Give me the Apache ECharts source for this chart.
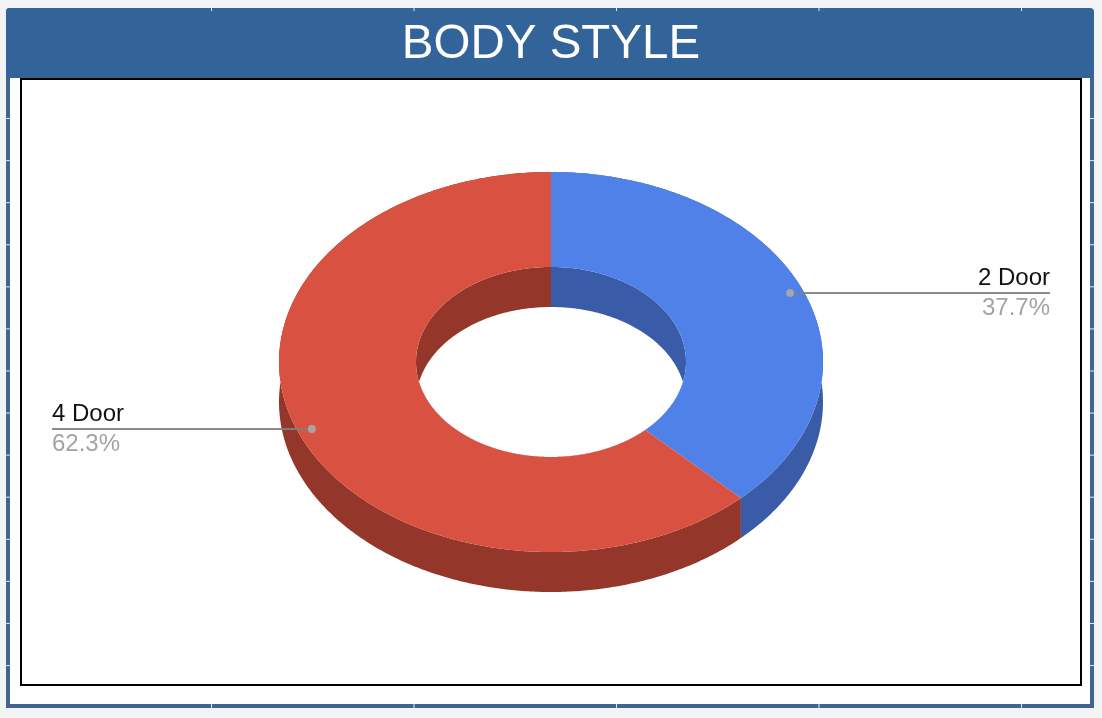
<!DOCTYPE html>
<html>
<head>
<meta charset="utf-8">
<style>html,body{margin:0;padding:0;background:#f1f3f5}#c{width:1102px;height:718px}</style>
<script src="https://cdn.jsdelivr.net/npm/echarts@6/dist/echarts.min.js"></script>
</head>
<body>
<div id="c"></div>
<script>
var titleText = 'BODY STYLE';
var categories = ['2 Door', '4 Door'];
var values = [37.7, 62.3];
var topColors = ['#4f81e8', '#d95140'];
var wallColors = ['#3a5ca8', '#95362a'];

var FONT = '"Liberation Sans", Arial, sans-serif';
var cx = 551, cy = 362, rx = 272, ry = 190, irx = 135, iry = 95, depth = 40;
var labelEnd = [1050, 52];   // x where each leader line stops
var DOT_RING = 0.949;

var total = values.reduce(function (a, b) { return a + b; }, 0);
function startAngle(i) {
  var s = 0;
  for (var k = 0; k < i; k++) s += values[k];
  return s / total * Math.PI * 2;
}
function endAngle(i) { return startAngle(i) + values[i] / total * Math.PI * 2; }
function pt(a, rX, rY, dy) { return [cx + rX * Math.sin(a), cy - rY * Math.cos(a) + (dy || 0)]; }
function arc(a0, a1, rX, rY, dy) {
  var n = Math.max(2, Math.ceil((a1 - a0) / 0.01)), out = [];
  for (var k = 0; k <= n; k++) out.push(pt(a0 + (a1 - a0) * k / n, rX, rY, dy));
  return out;
}
function poly(points, fill, extra) {
  return Object.assign({ type: 'polygon', shape: { points: points }, style: { fill: fill, stroke: null } }, extra || {});
}

function renderWall(params) {
  var i = params.dataIndex, a0 = startAngle(i), a1 = endAngle(i);
  return poly(arc(a0, a1, rx, ry, 0).concat(arc(a0, a1, rx, ry, depth).reverse()), wallColors[i]);
}
function renderInnerWall(params) {
  var i = params.dataIndex;
  return poly([[cx, cy]].concat(arc(startAngle(i), endAngle(i), irx, iry, 0)), wallColors[i]);
}
function renderHole() {
  var upper = [], lower = [], N = 300;
  var half = irx * Math.sqrt(1 - Math.pow(depth / 2 / iry, 2));
  for (var k = 0; k <= N; k++) {
    var x = -half + 2 * half * k / N, q = Math.sqrt(1 - x * x / (irx * irx));
    upper.push([cx + x, cy + depth - iry * q]);
    lower.unshift([cx + x, cy + iry * q]);
  }
  return poly(upper.concat(lower), '#ffffff');
}
function renderTop(params) {
  var i = params.dataIndex, a0 = startAngle(i), a1 = endAngle(i);
  return poly(arc(a0, a1, rx, ry, 0).concat(arc(a0, a1, irx, iry, 0).reverse()), topColors[i]);
}
function renderLabel(params) {
  var i = params.dataIndex, mid = (startAngle(i) + endAngle(i)) / 2;
  var d = pt(mid, rx * DOT_RING, ry * DOT_RING, -1), ex = labelEnd[i];
  var align = ex > d[0] ? 'right' : 'left';
  return {
    type: 'group',
    children: [
      { type: 'line', shape: { x1: d[0], y1: d[1], x2: ex, y2: d[1] },
        style: { stroke: '#808080', lineWidth: 2, opacity: 0.9 } },
      { type: 'circle', shape: { cx: d[0], cy: d[1], r: 4 }, style: { fill: '#a8a8a8', opacity: 0.95 } },
      { type: 'text', style: { x: ex, y: d[1] - 3, text: categories[i], align: align, verticalAlign: 'bottom',
          fill: '#111111', font: '24px ' + FONT } },
      { type: 'text', style: { x: ex, y: d[1] + 3, text: values[i].toFixed(1) + '%', align: align, verticalAlign: 'top',
          fill: '#a3a3a3', font: '24px ' + FONT } }
    ]
  };
}

var indexData = categories.map(function (c, i) { return { name: c, value: values[i] }; });
function layer(fn, z, data) {
  return { type: 'custom', coordinateSystem: 'none', renderItem: fn, data: data || indexData, z: z, silent: true, animation: false, clip: false };
}

var frame = [
  { type: 'rect', z: 0, shape: { x: 6, y: 77, width: 1088, height: 631 }, style: { fill: '#42658f' } },
  { type: 'rect', z: 0, shape: { x: 10, y: 77, width: 1080, height: 627 }, style: { fill: '#ffffff' } },
  { type: 'rect', z: 0, shape: { x: 6, y: 8, width: 1088, height: 70, r: [3, 4, 0, 0] }, style: { fill: '#336499' } },
  { type: 'rect', z: 1, shape: { x: 21, y: 79, width: 1060, height: 606 }, style: { fill: null, stroke: '#000000', lineWidth: 2 } }
];
for (var t = 0; t < 14; t++) {
  var ty = 118 + t * 42.08;
  frame.push({ type: 'rect', z: 1, shape: { x: 6, y: ty, width: 4, height: 1 }, style: { fill: '#dfe8f2' } });
  frame.push({ type: 'rect', z: 1, shape: { x: 1090, y: ty, width: 4, height: 1 }, style: { fill: '#dfe8f2' } });
}
for (var u = 0; u < 5; u++) {
  var tx = 211 + u * 202.5;
  frame.push({ type: 'rect', z: 1, shape: { x: tx, y: 8, width: 1, height: 3 }, style: { fill: '#dfe8f2' } });
  frame.push({ type: 'rect', z: 1, shape: { x: tx, y: 704, width: 1, height: 4 }, style: { fill: '#dfe8f2' } });
}

var chart = echarts.init(document.getElementById('c'), null, { renderer: 'canvas', width: 1102, height: 718 });
chart.setOption({
  backgroundColor: '#f1f3f5',
  animation: false,
  title: {
    text: titleText, left: 'center', top: 16, z: 20,
    textStyle: { color: '#ffffff', fontFamily: FONT, fontWeight: 'normal', fontSize: 47.5 }
  },
  graphic: { elements: frame },
  series: [
    layer(renderWall, 2),
    layer(renderInnerWall, 3),
    layer(renderHole, 4, [{ name: 'hole', value: 1 }]),
    layer(renderTop, 5),
    layer(renderLabel, 6)
  ]
});
</script>
</body>
</html>
